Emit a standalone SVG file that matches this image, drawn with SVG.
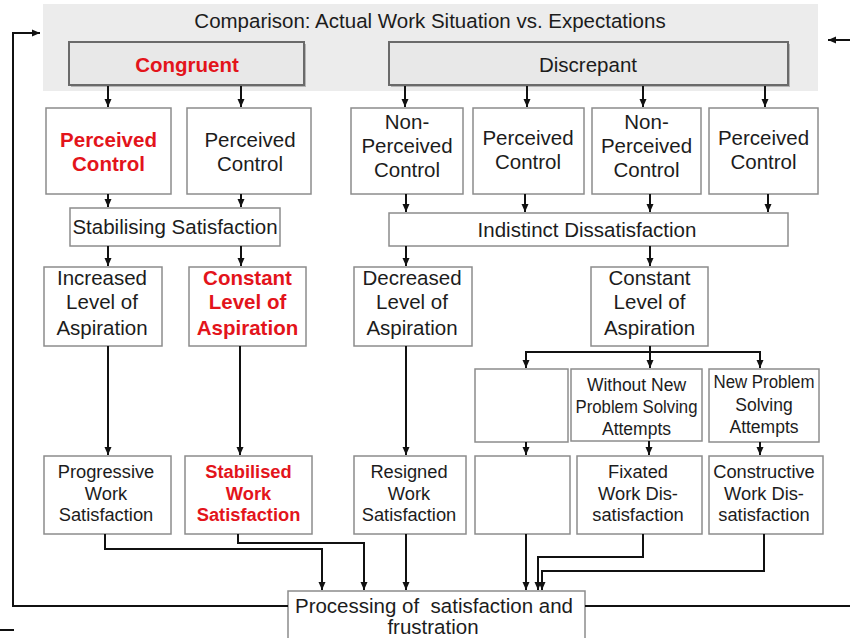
<svg xmlns="http://www.w3.org/2000/svg" width="850" height="638" viewBox="0 0 850 638">
  <defs>
    <marker id="ah" markerUnits="userSpaceOnUse" markerWidth="9" markerHeight="8" refX="8" refY="4" orient="auto">
      <path d="M0,0.5 L8,4 L0,7.5 z" fill="#111"/>
    </marker>
  </defs>
  <style>
    text { font-family: "Liberation Sans", Arial, sans-serif; fill: #1c1c1c; text-anchor: middle; }
    .t20 { font-size: 20.5px; }
    .t18 { font-size: 18.3px; }
    .t17 { font-size: 17.5px; }
    .red { fill: #e3141b; font-weight: bold; }
    .box { fill: #ffffff; stroke: #8c8c8c; stroke-width: 1.5; }
    .hbox { fill: #e8e8e8; stroke: #6a6a6a; stroke-width: 2; }
    .shadow { fill: #b5b5b5; }
    .c { fill: none; stroke: #111; stroke-width: 2; }
    .a { fill: none; stroke: #111; stroke-width: 2; marker-end: url(#ah); }
  </style>

  <g id="comparison">
    <rect x="43" y="4" width="775" height="87" fill="#ececec"/>
    <text class="t20" x="430" y="28">Comparison: Actual Work Situation vs. Expectations</text>
  </g>
  <g id="congruent">
    <rect class="shadow" x="71" y="44" width="235" height="43"/>
    <rect class="hbox" x="69" y="42" width="235" height="43"/>
    <text class="t20 red" x="187" y="72">Congruent</text>
  </g>
  <g id="discrepant">
    <rect class="shadow" x="391" y="44" width="399" height="43"/>
    <rect class="hbox" x="389" y="42" width="399" height="43"/>
    <text class="t20" x="588" y="72">Discrepant</text>
  </g>

  <g id="pc1">
    <rect class="box" x="46" y="108" width="125" height="86"/>
    <text class="t20 red" x="108.5" y="147">Perceived</text>
    <text class="t20 red" x="108.5" y="171">Control</text>
  </g>
  <g id="pc2">
    <rect class="box" x="187" y="108" width="124" height="86"/>
    <text class="t20" x="250" y="147">Perceived</text>
    <text class="t20" x="250" y="171">Control</text>
  </g>
  <g id="npc1">
    <rect class="box" x="351" y="108" width="112" height="86"/>
    <text class="t20" x="407" y="129">Non-</text>
    <text class="t20" x="407" y="153">Perceived</text>
    <text class="t20" x="407" y="177">Control</text>
  </g>
  <g id="pc3">
    <rect class="box" x="473" y="108" width="111" height="86"/>
    <text class="t20" x="528" y="145">Perceived</text>
    <text class="t20" x="528" y="169">Control</text>
  </g>
  <g id="npc2">
    <rect class="box" x="592" y="108" width="109" height="86"/>
    <text class="t20" x="646.5" y="129">Non-</text>
    <text class="t20" x="646.5" y="153">Perceived</text>
    <text class="t20" x="646.5" y="177">Control</text>
  </g>
  <g id="pc4">
    <rect class="box" x="709" y="108" width="109" height="86"/>
    <text class="t20" x="763.5" y="145">Perceived</text>
    <text class="t20" x="763.5" y="169">Control</text>
  </g>

  <g id="stabilising">
    <rect class="box" x="70" y="208" width="210" height="38"/>
    <text class="t20" x="175" y="234">Stabilising Satisfaction</text>
  </g>
  <g id="indistinct">
    <rect class="box" x="389" y="213" width="399" height="33"/>
    <text class="t20" x="587" y="237">Indistinct Dissatisfaction</text>
  </g>

  <g id="increased">
    <rect class="box" x="44" y="267" width="118" height="79"/>
    <text class="t20" x="102" y="285">Increased</text>
    <text class="t20" x="102" y="309">Level of</text>
    <text class="t20" x="102" y="335">Aspiration</text>
  </g>
  <g id="constant1">
    <rect class="box" x="189" y="267" width="117" height="79"/>
    <text class="t20 red" x="247.5" y="285">Constant</text>
    <text class="t20 red" x="247.5" y="309">Level of</text>
    <text class="t20 red" x="247.5" y="335">Aspiration</text>
  </g>
  <g id="decreased">
    <rect class="box" x="354" y="267" width="118" height="79"/>
    <text class="t20" x="412" y="285">Decreased</text>
    <text class="t20" x="412" y="309">Level of</text>
    <text class="t20" x="412" y="335">Aspiration</text>
  </g>
  <g id="constant2">
    <rect class="box" x="591" y="267" width="117" height="79"/>
    <text class="t20" x="649.5" y="285">Constant</text>
    <text class="t20" x="649.5" y="309">Level of</text>
    <text class="t20" x="649.5" y="335">Aspiration</text>
  </g>

  <g id="empty1">
    <rect class="box" x="475" y="369" width="93" height="73"/>
  </g>
  <g id="without">
    <rect class="box" x="571" y="369" width="131" height="72"/>
    <text class="t17" x="636.5" y="391">Without New</text>
    <text class="t17" x="636.5" y="413" textLength="122" lengthAdjust="spacingAndGlyphs">Problem Solving</text>
    <text class="t17" x="636.5" y="435">Attempts</text>
  </g>
  <g id="newproblem">
    <rect class="box" x="709" y="369" width="110" height="73"/>
    <text class="t17" x="764" y="388" textLength="101" lengthAdjust="spacingAndGlyphs">New Problem</text>
    <text class="t17" x="764" y="411">Solving</text>
    <text class="t17" x="764" y="433">Attempts</text>
  </g>

  <g id="progressive">
    <rect class="box" x="44" y="456" width="127" height="78"/>
    <text class="t18" x="106" y="478">Progressive</text>
    <text class="t18" x="106" y="500">Work</text>
    <text class="t18" x="106" y="521">Satisfaction</text>
  </g>
  <g id="stabilised">
    <rect class="box" x="185" y="456" width="127" height="78"/>
    <text class="t18 red" x="248.5" y="478">Stabilised</text>
    <text class="t18 red" x="248.5" y="500">Work</text>
    <text class="t18 red" x="248.5" y="521">Satisfaction</text>
  </g>
  <g id="resigned">
    <rect class="box" x="354" y="456" width="112" height="78"/>
    <text class="t18" x="409" y="478">Resigned</text>
    <text class="t18" x="409" y="500">Work</text>
    <text class="t18" x="409" y="521">Satisfaction</text>
  </g>
  <g id="empty2">
    <rect class="box" x="475" y="456" width="95" height="78"/>
  </g>
  <g id="fixated">
    <rect class="box" x="577" y="456" width="125" height="78"/>
    <text class="t18" x="638" y="478">Fixated</text>
    <text class="t18" x="638" y="500">Work Dis-</text>
    <text class="t18" x="638" y="521">satisfaction</text>
  </g>
  <g id="constructive">
    <rect class="box" x="709" y="456" width="114" height="78"/>
    <text class="t18" x="764" y="478">Constructive</text>
    <text class="t18" x="764" y="500">Work Dis-</text>
    <text class="t18" x="764" y="521">satisfaction</text>
  </g>

  <g id="processing">
    <rect class="box" x="288" y="591" width="297" height="70"/>
    <text class="t20" x="434" y="613" xml:space="preserve">Processing of  satisfaction and</text>
    <text class="t20" x="433" y="634">frustration</text>
  </g>

  <g id="connectors">
    <line class="a" x1="108" y1="86" x2="108" y2="107"/>
    <line class="a" x1="241" y1="86" x2="241" y2="107"/>
    <line class="a" x1="405" y1="86" x2="405" y2="107"/>
    <line class="a" x1="527" y1="86" x2="527" y2="107"/>
    <line class="a" x1="643" y1="86" x2="643" y2="107"/>
    <line class="a" x1="765" y1="86" x2="765" y2="107"/>
    <line class="a" x1="108" y1="194" x2="108" y2="207"/>
    <line class="a" x1="241" y1="194" x2="241" y2="207"/>
    <line class="a" x1="406" y1="194" x2="406" y2="212"/>
    <line class="a" x1="525" y1="194" x2="525" y2="212"/>
    <line class="a" x1="650" y1="194" x2="650" y2="212"/>
    <line class="a" x1="768" y1="194" x2="768" y2="212"/>
    <line class="a" x1="108" y1="246" x2="108" y2="266"/>
    <line class="a" x1="241" y1="246" x2="241" y2="266"/>
    <line class="a" x1="406" y1="246" x2="406" y2="266"/>
    <line class="a" x1="650" y1="246" x2="650" y2="266"/>
    <line class="a" x1="108" y1="346" x2="108" y2="455"/>
    <line class="a" x1="240" y1="346" x2="240" y2="455"/>
    <line class="a" x1="406" y1="346" x2="406" y2="455"/>
    <line class="c" x1="650" y1="346" x2="650" y2="352"/>
    <line class="c" x1="525" y1="352" x2="761" y2="352"/>
    <line class="a" x1="526" y1="352" x2="526" y2="368"/>
    <line class="a" x1="650" y1="352" x2="650" y2="368"/>
    <line class="a" x1="760" y1="352" x2="760" y2="368"/>
    <line class="a" x1="526" y1="442" x2="526" y2="455"/>
    <line class="a" x1="649" y1="441" x2="649" y2="455"/>
    <line class="a" x1="760" y1="442" x2="760" y2="455"/>
    <polyline class="a" points="105,534 105,549 322,549 322,590"/>
    <polyline class="a" points="238,534 238,543 364,543 364,590"/>
    <line class="a" x1="406" y1="534" x2="406" y2="590"/>
    <line class="a" x1="526" y1="534" x2="526" y2="590"/>
    <polyline class="a" points="643,534 643,557 538,557 538,590"/>
    <polyline class="a" points="764,534 764,571 542,571 542,590"/>
    <polyline class="a" points="288,606 13,606 13,33 40,33"/>
    <line class="c" x1="585" y1="606" x2="850" y2="606"/>
    <line class="a" x1="850" y1="40" x2="828" y2="40"/>
    <line class="c" x1="0" y1="630" x2="14" y2="630"/>
  </g>
</svg>
